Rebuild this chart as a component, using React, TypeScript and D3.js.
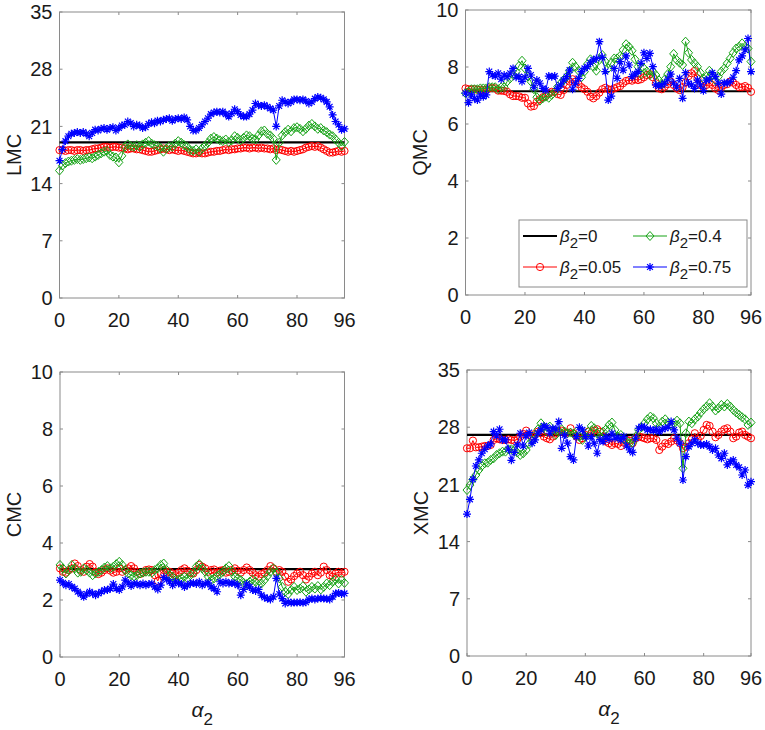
import React from "react";
import * as d3 from "d3";

// alpha_2 grid 0..96
const alphaVals = d3.range(0, 97);
const xTicks = [0, 20, 40, 60, 80, 96];

const lmcTicks = [0, 7, 14, 21, 28, 35];
const qmcTicks = [0, 2, 4, 6, 8, 10];
const cmcTicks = [0, 2, 4, 6, 8, 10];
const xmcTicks = [0, 7, 14, 21, 28, 35];

// beta_2 = 0 reference levels (flat)
const lmcRef = 19.05;
const qmcRef = 7.15;
const cmcRef = 3.08;
const xmcRef = 27.05;

const lmcRed = [
  18.1, 18.1, 18.0, 18.1, 18.1, 18.0, 18.1, 18.1, 18.0, 18.1,
  18.1, 18.2, 18.3, 18.3, 18.4, 18.5, 18.5, 18.4, 18.5, 18.5,
  18.4, 18.4, 18.3, 18.2, 18.3, 18.3, 18.2, 18.2, 18.1, 18.0,
  17.9, 17.9, 18.0, 18.1, 18.2, 18.3, 18.2, 18.1, 18.2, 18.1,
  18.0, 18.1, 18.0, 17.9, 17.8, 17.7, 17.7, 17.8, 17.7, 17.7,
  17.8, 17.9, 17.9, 18.0, 18.0, 18.1, 18.2, 18.1, 18.2, 18.2,
  18.3, 18.3, 18.4, 18.4, 18.3, 18.4, 18.4, 18.3, 18.4, 18.3,
  18.3, 18.2, 18.3, 18.1, 18.2, 18.1, 18.0, 17.9, 18.0, 17.9,
  18.0, 18.1, 18.2, 18.4, 18.5, 18.6, 18.5, 18.6, 18.4, 18.2,
  18.0, 17.8, 17.8, 17.9, 18.0, 17.9, 18.0,
];
const lmcGreen = [
  15.6, 16.2, 16.5, 16.7, 16.8, 16.9, 17.0, 16.9, 17.0, 17.1,
  17.2, 17.1, 17.3, 17.5, 17.7, 17.9, 18.0, 17.5, 17.3, 17.2,
  16.6, 17.4, 18.5, 18.8, 18.6, 18.5, 18.7, 18.5, 18.8, 19.0,
  19.2, 18.9, 18.7, 18.6, 18.4, 17.9, 18.3, 18.6, 18.5, 18.9,
  19.2, 19.0, 18.7, 18.5, 18.1, 18.0, 18.2, 17.9, 18.3, 18.6,
  19.0, 19.5, 19.7, 19.5, 19.3, 19.2, 19.4, 19.1, 19.3, 19.8,
  19.6, 19.3, 19.6, 19.9, 19.8, 19.5, 19.4, 19.9, 20.4, 20.5,
  20.1, 19.9, 19.5, 16.9, 19.0, 19.9, 20.3, 20.6, 20.4, 20.8,
  20.9, 20.7, 20.4, 20.7, 21.1, 21.3, 21.0, 20.7, 20.8, 20.5,
  20.3, 20.0, 19.8, 19.4, 19.0, 18.6, 19.1,
];
const lmcBlue = [
  16.8, 18.2, 19.2, 19.8, 20.1, 20.2, 20.3, 20.2, 20.3, 20.1,
  19.8, 20.2, 20.6, 20.5, 20.7, 20.8, 20.6, 20.8, 20.9, 20.5,
  20.8, 21.1, 21.2, 21.6, 21.4, 21.0, 21.2, 21.1, 20.8, 20.9,
  21.3, 21.5, 21.4, 21.7, 21.6, 21.8, 21.9, 22.0, 21.7, 21.9,
  22.0, 21.9, 22.1, 21.8, 21.0, 20.5, 20.5, 20.8, 21.2, 21.6,
  22.0, 22.5, 22.7, 22.8, 22.7, 22.8, 22.5, 22.2, 22.6, 23.1,
  22.8, 22.4, 22.2, 22.2, 22.5, 23.0, 23.8, 23.6, 23.5, 23.6,
  23.4, 23.2, 23.0, 21.0, 23.5, 24.2, 24.0, 23.8, 24.0, 24.3,
  24.3, 24.2, 24.3, 24.1, 23.8, 24.0, 24.4, 24.6, 24.5, 24.3,
  24.0, 23.4, 22.4, 21.6, 21.2, 20.6, 20.7,
];

const qmcRed = [
  7.25, 7.22, 7.22, 7.22, 7.2, 7.2, 7.19, 7.2, 7.25, 7.26,
  7.25, 7.17, 7.17, 7.16, 7.13, 7.04, 6.98, 6.98, 6.97, 6.92,
  6.92, 6.72, 6.61, 6.63, 6.78, 6.87, 6.94, 6.98, 7.08, 7.13,
  7.13, 7.05, 7.02, 7.19, 7.37, 7.49, 7.57, 7.49, 7.4, 7.29,
  7.22, 7.13, 6.96, 6.9, 6.98, 7.1, 7.22, 7.27, 7.22, 7.2,
  7.25, 7.29, 7.33, 7.43, 7.51, 7.54, 7.52, 7.57, 7.54, 7.57,
  7.64, 7.72, 7.75, 7.64, 7.43, 7.25, 7.22, 7.31, 7.4, 7.49,
  7.37, 7.25, 7.19, 7.29, 7.45, 7.68, 7.78, 7.86, 7.6, 7.37,
  7.29, 7.37, 7.45, 7.37, 7.25, 7.19, 7.29, 7.37, 7.4, 7.49,
  7.45, 7.37, 7.29, 7.29, 7.33, 7.27, 7.13,
];
const qmcGreen = [
  7.08, 7.13, 7.22, 7.22, 7.22, 7.25, 7.25, 7.25, 7.29, 7.29,
  7.29, 7.22, 7.29, 7.29, 7.49, 7.6, 7.72, 7.84, 8.04, 8.22,
  7.95, 7.66, 7.49, 7.22, 6.94, 6.82, 6.9, 6.96, 6.92, 7.02,
  7.13, 7.31, 7.43, 7.54, 7.66, 7.87, 8.15, 8.01, 7.87, 7.64,
  7.84, 8.1, 8.27, 8.01, 7.87, 8.25, 8.42, 8.19, 7.95, 8.15,
  8.3, 8.3, 8.39, 8.6, 8.8, 8.71, 8.57, 8.27, 8.01, 7.75,
  7.95, 7.84, 7.72, 7.84, 7.72, 7.54, 7.4, 7.57, 7.75, 8.01,
  8.46, 8.25, 8.15, 8.07, 8.89, 8.5, 8.25, 8.13, 8.01, 7.8,
  7.6, 7.66, 7.87, 7.72, 7.54, 7.66, 7.84, 7.95, 8.13, 8.3,
  8.5, 8.65, 8.71, 8.83, 8.71, 8.65, 8.19,
];
const qmcBlue = [
  7.08, 6.75, 7.02, 6.9, 6.84, 7.02, 6.96, 7.02, 7.84, 7.72,
  7.68, 7.78, 7.57, 7.72, 7.66, 7.78, 7.95, 7.64, 7.66, 7.49,
  7.64, 7.95, 7.72, 7.29, 7.54, 7.43, 7.25, 7.19, 7.68, 7.66,
  7.68, 7.25, 7.37, 7.54, 7.66, 7.89, 7.22, 7.43, 7.6, 7.84,
  7.95, 8.01, 8.15, 8.25, 8.3, 8.89, 8.34, 7.84, 6.84, 6.98,
  7.95, 7.6, 8.19, 7.89, 8.39, 8.07, 7.66, 7.75, 7.84, 8.13,
  8.5, 8.3, 8.48, 8.01, 7.37, 7.33, 7.37, 7.43, 7.57, 7.75,
  7.43, 7.29, 7.6, 6.9, 7.8, 7.43, 7.37, 7.25, 7.54, 7.37,
  7.17, 7.54, 7.57, 7.8, 7.66, 7.43, 7.05, 7.45, 7.43, 7.49,
  7.64, 7.87, 8.25, 8.39, 8.6, 9.0, 7.84,
];

const cmcRed = [
  3.11, 2.99, 2.96, 3.05, 3.11, 3.28, 3.19, 3.05, 2.99, 3.17,
  3.26, 3.17, 2.99, 2.91, 2.96, 3.05, 3.11, 3.03, 2.96, 2.99,
  3.11, 2.99, 3.05, 3.11, 3.19, 3.11, 2.99, 2.91, 2.96, 3.05,
  3.07, 3.05, 2.87, 2.67, 2.93, 3.05, 2.96, 2.99, 2.93, 2.87,
  2.96, 3.05, 3.11, 3.03, 2.96, 2.93, 3.05, 3.23, 3.17, 3.11,
  2.99, 3.05, 3.07, 2.96, 3.03, 3.05, 2.96, 2.99, 3.05, 3.11,
  3.03, 2.96, 3.05, 3.14, 3.05, 2.96, 2.87, 2.82, 2.91, 2.96,
  3.05, 3.19, 3.11, 2.99, 3.05, 2.99, 2.82, 2.64, 2.72, 2.84,
  2.93, 2.99, 2.87, 2.72, 2.82, 2.93, 2.99, 2.87, 2.96, 3.17,
  3.05, 2.87, 2.82, 2.93, 2.99, 2.93, 2.99,
];
const cmcGreen = [
  3.23, 3.11, 2.93, 3.05, 3.23, 3.11, 2.96, 2.99, 3.11, 3.05,
  2.96, 2.87, 2.93, 2.99, 3.05, 3.14, 3.19, 3.11, 3.17, 3.26,
  3.34, 3.23, 3.05, 2.93, 2.87, 2.82, 2.87, 2.93, 2.96, 2.99,
  2.99, 2.96, 3.05, 3.11, 3.23, 3.28, 3.05, 2.87, 2.82, 2.7,
  2.72, 2.76, 2.82, 2.76, 2.87, 2.96, 3.17, 3.26, 3.11, 2.99,
  2.82, 2.7, 2.76, 2.84, 2.91, 2.99, 3.11, 3.19, 2.99, 2.82,
  2.76, 2.7, 2.6, 2.56, 2.64, 2.72, 2.64, 2.52, 2.58, 2.7,
  2.84, 2.99, 3.11, 2.96, 2.76, 2.46, 2.29, 2.21, 2.35, 2.46,
  2.35, 2.4, 2.49, 2.29, 2.37, 2.46, 2.4, 2.49, 2.37, 2.46,
  2.58, 2.52, 2.64, 2.72, 2.58, 2.7, 2.6,
];
const cmcBlue = [
  2.7, 2.6, 2.52, 2.56, 2.46, 2.4, 2.29, 2.21, 2.11, 2.21,
  2.29, 2.23, 2.17, 2.23, 2.29, 2.35, 2.35, 2.4, 2.56, 2.4,
  2.35, 2.46, 2.7, 2.6, 2.49, 2.58, 2.56, 2.52, 2.58, 2.52,
  2.56, 2.58, 2.46, 2.37, 2.52, 2.79, 2.72, 2.64, 2.52, 2.64,
  2.58, 2.56, 2.46, 2.52, 2.58, 2.6, 2.56, 2.64, 2.52, 2.58,
  2.6, 2.46, 2.4, 2.29, 2.64, 2.58, 2.64, 2.58, 2.6, 2.58,
  2.52, 2.17, 2.37, 2.56, 2.46, 2.35, 2.32, 2.37, 2.17, 2.09,
  2.05, 2.02, 2.11, 2.76, 2.21, 2.05, 1.88, 1.94, 1.9, 1.91,
  1.91, 1.92, 1.9, 1.92, 2.02, 2.05, 2.02, 2.05, 2.06, 2.05,
  2.04, 2.02, 2.11, 2.23, 2.25, 2.21, 2.23,
];

const xmcRed = [
  25.42, 25.42, 26.36, 25.54, 25.54, 25.62, 25.7, 25.7, 25.83, 26.44,
  26.65, 26.52, 26.44, 26.44, 26.52, 26.44, 26.36, 26.52, 26.85, 27.18,
  27.58, 27.05, 26.85, 27.18, 27.46, 27.26, 26.85, 26.65, 26.52, 26.85,
  27.26, 27.46, 27.58, 27.26, 27.34, 27.87, 27.26, 26.85, 26.44, 26.65,
  27.05, 27.46, 27.26, 27.58, 27.75, 27.46, 26.85, 26.24, 26.04, 25.83,
  26.04, 25.95, 25.7, 26.11, 26.44, 26.36, 26.04, 26.65, 26.85, 26.77,
  26.65, 26.52, 26.65, 26.65, 26.44, 25.21, 25.62, 26.04, 25.95, 26.24,
  26.65, 26.36, 26.04, 25.42, 25.62, 26.04, 26.52, 27.26, 26.52, 26.93,
  27.67, 28.28, 28.16, 27.46, 26.77, 27.05, 27.46, 27.75, 27.87, 27.46,
  26.65, 26.85, 27.34, 27.46, 27.05, 26.85, 26.65,
];
const xmcGreen = [
  20.31, 20.92, 21.62, 22.15, 22.76, 23.25, 23.58, 23.66, 23.99, 24.19,
  24.6, 24.81, 25.01, 25.01, 25.3, 25.3, 25.21, 24.89, 24.6, 24.81,
  25.21, 25.95, 26.36, 27.05, 27.75, 28.48, 27.99, 27.46, 28.08, 27.67,
  27.05, 27.46, 27.75, 27.46, 27.26, 27.34, 27.18, 27.46, 26.85, 26.44,
  26.85, 27.46, 28.16, 27.87, 27.26, 26.85, 27.46, 27.75, 28.28, 28.57,
  27.67, 26.85, 27.05, 26.52, 26.24, 26.04, 26.11, 26.85, 27.67, 27.99,
  28.48, 28.97, 29.3, 29.1, 28.48, 28.08, 28.69, 28.97, 28.57, 28.28,
  28.48, 28.81, 28.48, 22.97, 27.26, 28.69, 28.48, 28.97, 29.3, 29.79,
  30.2, 30.53, 30.94, 30.53, 30.04, 30.32, 30.73, 30.53, 30.85, 30.53,
  30.12, 29.79, 29.51, 29.22, 28.97, 28.28, 28.57,
];
const xmcBlue = [
  17.37, 19.17, 21.62, 23.25, 23.99, 24.81, 25.3, 25.7, 25.95, 27.46,
  26.94, 27.75, 26.44, 26.44, 25.3, 23.95, 24.91, 25.83, 27.26, 25.7,
  26.94, 27.34, 26.04, 26.44, 27.26, 27.67, 28.16, 27.99, 27.26, 27.87,
  27.75, 28.69, 25.42, 27.05, 26.04, 24.4, 23.99, 26.85, 27.99, 27.67,
  26.85, 25.7, 26.85, 26.04, 24.81, 26.52, 26.24, 26.85, 26.52, 27.26,
  26.65, 26.77, 26.44, 26.85, 25.7, 25.21, 24.91, 26.65, 27.87, 28.08,
  27.99, 27.67, 27.75, 27.58, 27.75, 27.46, 27.75, 27.87, 27.99, 28.69,
  27.67, 26.65, 26.04, 21.54, 24.4, 25.62, 26.04, 26.44, 26.04, 25.83,
  25.83, 25.95, 25.62, 25.21, 25.42, 24.6, 24.19, 24.81, 23.38, 23.78,
  23.99, 23.38, 23.09, 22.15, 22.76, 20.92, 21.33,
];

const colors = { ref: "#000000", red: "#ff0000", green: "#17a317", blue: "#0000ff" };
const axisColor = "#8a8a8a";
const textColor = "#1a1a1a";
const font = "'Liberation Sans', Arial, Helvetica, sans-serif";

type Panel = {
  label: string;
  left: number;
  right: number;
  top: number;
  bottom: number;
  yMax: number;
  yTicks: number[];
  ref: number;
  red: number[];
  green: number[];
  blue: number[];
  xLabel: boolean;
  legend: boolean;
};

const panels: Panel[] = [
  { label: "LMC", left: 59.5, right: 344.5, top: 12, bottom: 298, yMax: 35, yTicks: lmcTicks, ref: lmcRef, red: lmcRed, green: lmcGreen, blue: lmcBlue, xLabel: false, legend: false },
  { label: "QMC", left: 465.5, right: 751, top: 10, bottom: 295, yMax: 10, yTicks: qmcTicks, ref: qmcRef, red: qmcRed, green: qmcGreen, blue: qmcBlue, xLabel: false, legend: true },
  { label: "CMC", left: 60, right: 344.5, top: 372, bottom: 657, yMax: 10, yTicks: cmcTicks, ref: cmcRef, red: cmcRed, green: cmcGreen, blue: cmcBlue, xLabel: true, legend: false },
  { label: "XMC", left: 467, right: 751, top: 370, bottom: 656, yMax: 35, yTicks: xmcTicks, ref: xmcRef, red: xmcRed, green: xmcGreen, blue: xmcBlue, xLabel: true, legend: false },
];

const diamondPath = "M0,-4.5L4,0L0,4.5L-4,0Z";
const starPath = "M-4,0H4M0,-4V4M-2.9,-2.9L2.9,2.9M-2.9,2.9L2.9,-2.9";

const Marker: React.FC<{ kind: string; x: number; y: number }> = ({ kind, x, y }) => {
  if (kind === "red")
    return <circle cx={x} cy={y} r={3.6} fill="none" stroke={colors.red} strokeWidth={1} />;
  if (kind === "green")
    return <path d={diamondPath} transform={`translate(${x},${y})`} fill="none" stroke={colors.green} strokeWidth={1} />;
  return <path d={starPath} transform={`translate(${x},${y})`} fill="none" stroke={colors.blue} strokeWidth={1.2} />;
};

const PanelView: React.FC<{ p: Panel }> = ({ p }) => {
  const x = d3.scaleLinear().domain([0, 96]).range([p.left, p.right]);
  const y = d3.scaleLinear().domain([0, p.yMax]).range([p.bottom, p.top]);
  const line = d3
    .line<number>()
    .x((_, i) => x(alphaVals[i]))
    .y((d) => y(d));
  const series: [string, number[]][] = [
    ["red", p.red],
    ["green", p.green],
    ["blue", p.blue],
  ];
  const tl = 3;
  const midY = (p.top + p.bottom) / 2;
  const midX = (p.left + p.right) / 2;
  return (
    <g>
      {/* ticks */}
      {xTicks.map((t) => (
        <g key={"xt" + t}>
          <line x1={x(t)} x2={x(t)} y1={p.bottom} y2={p.bottom - tl} stroke={axisColor} />
          <line x1={x(t)} x2={x(t)} y1={p.top} y2={p.top + tl} stroke={axisColor} />
          <text x={x(t)} y={p.bottom + 29} textAnchor="middle" fontSize={20} fill={textColor} fontFamily={font}>
            {t}
          </text>
        </g>
      ))}
      {p.yTicks.map((t) => (
        <g key={"yt" + t}>
          <line x1={p.left} x2={p.left + tl} y1={y(t)} y2={y(t)} stroke={axisColor} />
          <line x1={p.right} x2={p.right - tl} y1={y(t)} y2={y(t)} stroke={axisColor} />
          <text x={p.left - 7} y={y(t)} dy="0.36em" textAnchor="end" fontSize={20} fill={textColor} fontFamily={font}>
            {t}
          </text>
        </g>
      ))}
      <rect x={p.left} y={p.top} width={p.right - p.left} height={p.bottom - p.top} fill="none" stroke={axisColor} strokeWidth={1} />
      <text
        transform={`translate(${p.left - 39},${midY}) rotate(-90)`}
        textAnchor="middle"
        fontSize={20}
        fill={textColor}
        fontFamily={font}
      >
        {p.label}
      </text>
      {/* beta_2 = 0 */}
      <line x1={x(0)} x2={x(96)} y1={y(p.ref)} y2={y(p.ref)} stroke={colors.ref} strokeWidth={2.2} />
      {series.map(([kind, vals]) => (
        <g key={kind}>
          <path d={line(vals) || ""} fill="none" stroke={(colors as any)[kind]} strokeWidth={1} />
          {vals.map((v, i) => (
            <Marker key={i} kind={kind} x={x(alphaVals[i])} y={y(v)} />
          ))}
        </g>
      ))}
      {p.xLabel && (
        <text x={midX} y={p.bottom + 60} textAnchor="middle" fill={textColor} fontFamily={font}>
          <tspan fontSize={21} fontStyle="italic">α</tspan>
          <tspan fontSize={17} dy={8}>2</tspan>
        </text>
      )}
      {p.legend && <Legend />}
    </g>
  );
};

const legendItems = [
  { kind: "ref", value: "0", col: 0, row: 0 },
  { kind: "green", value: "0.4", col: 1, row: 0 },
  { kind: "red", value: "0.05", col: 0, row: 1 },
  { kind: "blue", value: "0.75", col: 1, row: 1 },
];

const Legend: React.FC = () => {
  const bx = 519;
  const by = 220;
  const colX = [523, 633];
  const rowY = [236, 267];
  return (
    <g>
      <rect x={bx} y={by} width={228} height={67} fill="#ffffff" stroke={axisColor} strokeWidth={1} />
      {legendItems.map((it) => {
        const x0 = colX[it.col];
        const cy = rowY[it.row];
        const c = (colors as any)[it.kind];
        return (
          <g key={it.kind}>
            <line x1={x0} x2={x0 + 34} y1={cy} y2={cy} stroke={c} strokeWidth={it.kind === "ref" ? 2.2 : 1} />
            {it.kind !== "ref" && <Marker kind={it.kind} x={x0 + 17} y={cy} />}
            <text x={x0 + 37} y={cy + 6} fill={textColor} fontFamily={font} fontSize={17}>
              <tspan fontStyle="italic">β</tspan>
              <tspan fontSize={15} dy={6}>2</tspan>
              <tspan dy={-6}>={it.value}</tspan>
            </text>
          </g>
        );
      })}
    </g>
  );
};

export default function App() {
  return (
    <svg
      width={765}
      height={730}
      viewBox="0 0 765 730"
      style={{ position: "absolute", left: 0, top: 0, background: "#ffffff" }}
    >
      <rect width={765} height={730} fill="#ffffff" />
      {panels.map((p) => (
        <PanelView key={p.label} p={p} />
      ))}
    </svg>
  );
}
